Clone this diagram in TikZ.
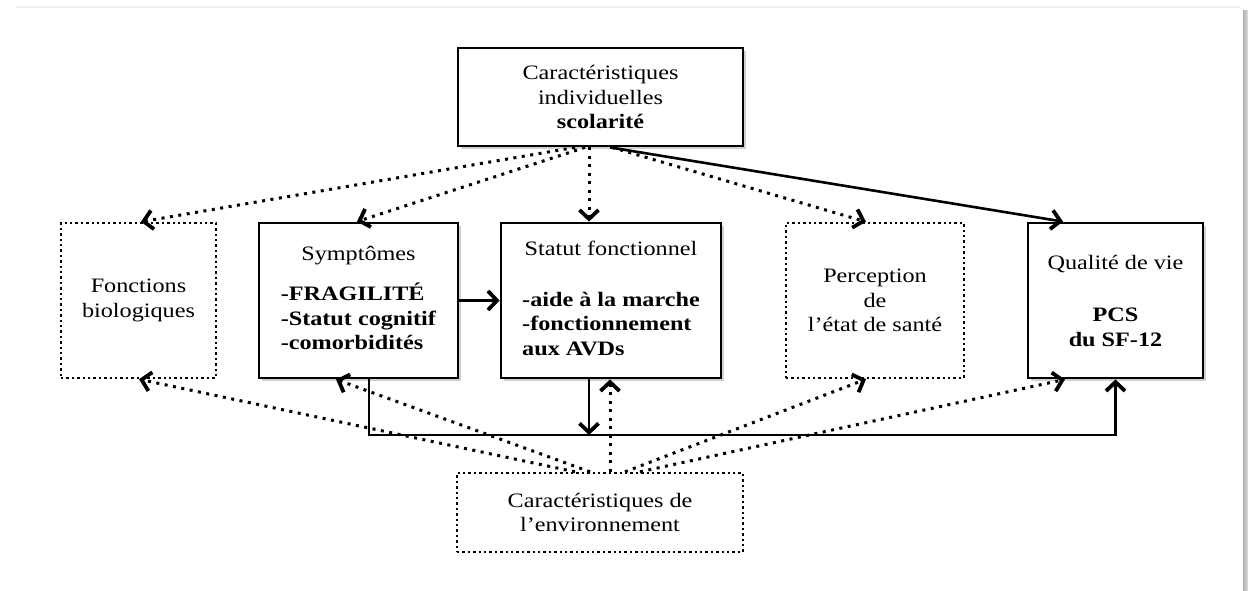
\documentclass[tikz,border=0pt]{standalone}
\usepackage{fontspec}
\setmainfont{Liberation Serif}[FakeStretch=1.18]
\usetikzlibrary{arrows.meta,shadows,calc}
\begin{document}
\begin{tikzpicture}[x=1pt,y=-1pt,
  every node/.style={font=\fontsize{20.5}{24.5}\selectfont, inner sep=0pt, align=center},
  solidbox/.style={draw, line width=2.8pt, fill=white,
    drop shadow={fill=black, opacity=0.18, shadow xshift=3pt, shadow yshift=-3pt}},
  dotbox/.style={draw, line width=2.4pt, dash pattern=on 2.4pt off 3pt, fill=white},
  dotline/.style={line width=3pt, dash pattern=on 3pt off 5.5pt},
  solidline/.style={line width=2.6pt},
  tip/.style={-{Straight Barb[length=9pt,width=19pt,line width=3.8pt]}},
]
% canvas
\fill[white] (0,0) rectangle (1248,590);
\useasboundingbox (0,0) rectangle (1248,590);
\draw[gray!10, line width=1.2pt] (15,7) -- (1240,7);
\shade[left color=gray!60, right color=gray!25] (1243,10) rectangle (1248,590);

% boxes
\node[solidbox, minimum width=285pt, minimum height=98pt] (top) at (600.5,97)
  {Caractéristiques\\individuelles\\\textbf{scolarité}};
\node[dotbox, minimum width=155pt, minimum height=155pt] (fonc) at (138.5,300.5)
  {Fonctions\\biologiques};
\node[solidbox, minimum width=199pt, minimum height=155pt] (symp) at (358.5,300.5)
  {\begin{tabular}{@{}l@{}}\multicolumn{1}{@{}c@{}}{Symptômes}\\[15pt]
   \textbf{-FRAGILITÉ}\\ \textbf{-Statut cognitif}\\ \textbf{-comorbidités}\end{tabular}};
\node[solidbox, minimum width=220pt, minimum height=155pt] (stat) at (611,300.5)
  {\begin{tabular}{@{}l@{}}\multicolumn{1}{@{}c@{}}{Statut fonctionnel}\\[26pt]
   \textbf{-aide à la marche}\\ \textbf{-fonctionnement}\\ \textbf{aux AVDs}\end{tabular}};
\node[dotbox, minimum width=178pt, minimum height=155pt] (perc) at (875,300.5)
  {Perception\\de\\l’état de santé};
\node[solidbox, minimum width=175pt, minimum height=155pt] (qual) at (1115.5,300.5)
  {Qualité de vie\\[28pt]\textbf{PCS}\\\textbf{du SF-12}};
\node[dotbox, minimum width=286pt, minimum height=79pt] (env) at (600,512.5)
  {Caractéristiques de\\l’environnement};

\coordinate (j) at (589,435);

% from individual characteristics
\draw[dotline,tip] ([xshift=-25.5pt]top.south) -- ([xshift=2.5pt]fonc.north);
\draw[dotline,tip] ([xshift=-15.5pt]top.south) -- ([xshift=-1.5pt]symp.north);
\draw[dotline,tip] ([xshift=-11.5pt]top.south) -- ([xshift=-22pt]stat.north);
\draw[dotline,tip] ([xshift=11.5pt]top.south) -- ([xshift=-9pt]perc.north);
\draw[solidline,tip] ([xshift=9.5pt]top.south) -- ([xshift=-52.5pt]qual.north);

% main chain
\draw[solidline,tip] (symp.east) -- (stat.west);
\draw[solidline,tip] ([xshift=10.5pt]symp.south) |- (j -| qual.south) -- (qual.south);
\draw[solidline,tip] ([xshift=-22pt]stat.south) -- (j);

% from environment
\draw[dotline,tip] ([xshift=-25pt]env.north) -- ([xshift=0.5pt]fonc.south);
\draw[dotline,tip] ([xshift=-10pt]env.north) -- ([xshift=-22.5pt]symp.south);
\draw[dotline,tip] ([xshift=10pt]env.north) -- ([xshift=-1pt]stat.south);
\draw[dotline,tip] ([xshift=25pt]env.north) -- ([xshift=-9pt]perc.south);
\draw[dotline,tip] ([xshift=40pt]env.north) -- ([xshift=-50.5pt]qual.south);
\end{tikzpicture}
\end{document}
